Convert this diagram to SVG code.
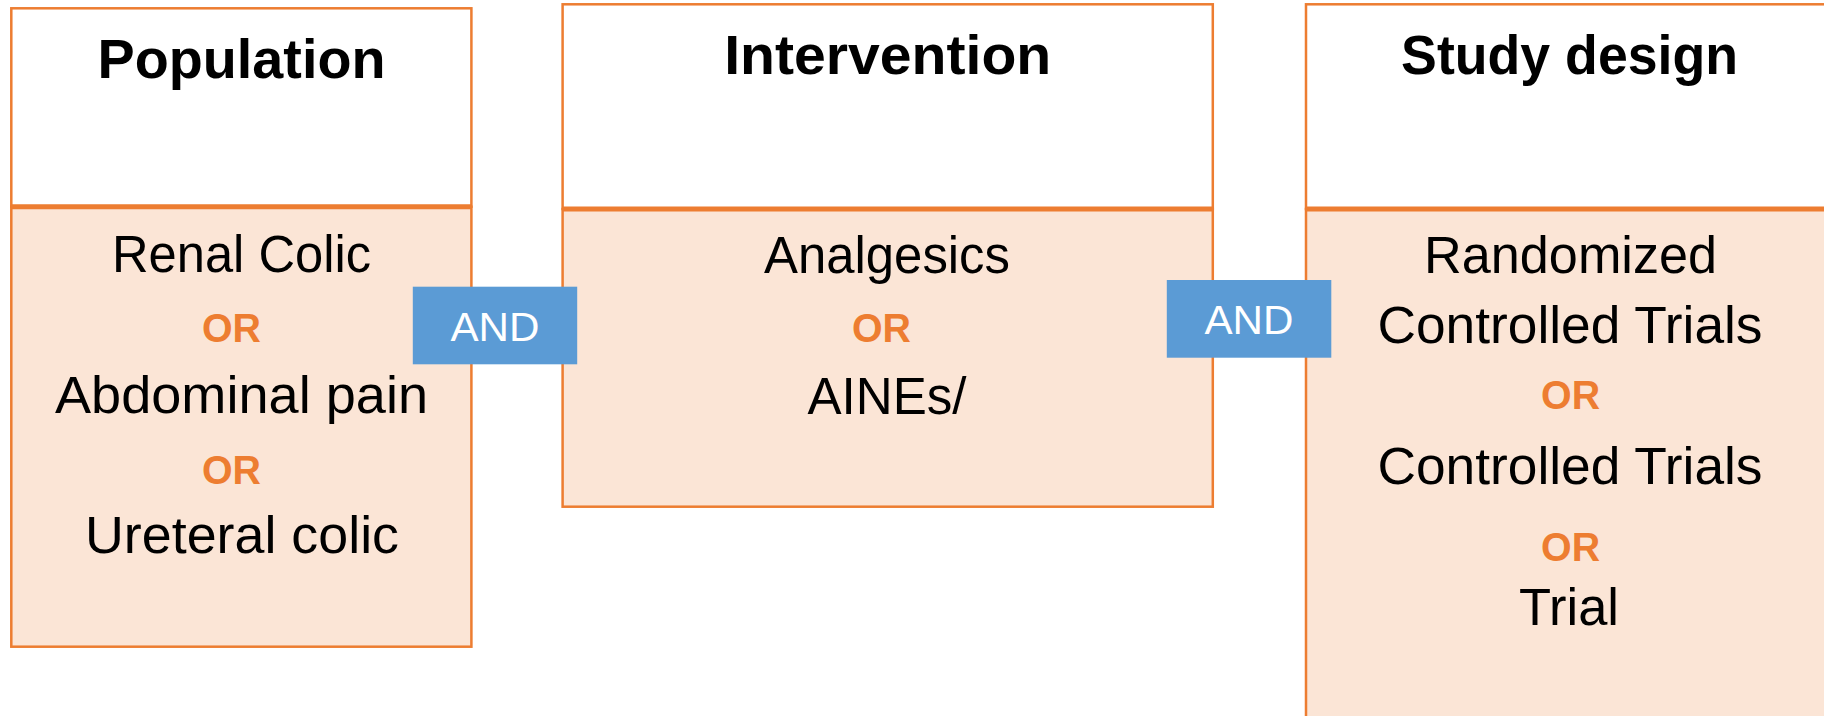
<svg xmlns="http://www.w3.org/2000/svg" width="1824" height="716" viewBox="0 0 1824 716">
  <style>
    .head { fill: #FFFFFF; stroke: #ED7D31; stroke-width: 2.5; }
    .body { fill: #FBE5D6; stroke: #ED7D31; stroke-width: 2.5; }
    .div { stroke: #ED7D31; stroke-width: 5; }
    .title { font-family: "Liberation Sans", Arial, sans-serif; font-weight: bold; font-size: 56px; fill: #000000; text-anchor: middle; }
    .item { font-family: "Liberation Sans", Arial, sans-serif; font-size: 51px; fill: #000000; text-anchor: middle; }
    .or { font-family: "Liberation Sans", Arial, sans-serif; font-weight: bold; font-size: 40px; fill: #ED7D31; text-anchor: middle; }
    .andbox { fill: #5B9BD5; }
    .andtxt { font-family: "Liberation Sans", Arial, sans-serif; font-size: 40px; fill: #FFFFFF; text-anchor: middle; }
  </style>
  <rect x="0" y="0" width="1824" height="716" fill="#FFFFFF"/>

  <g id="population">
    <rect class="head" x="11.3" y="8.3" width="460.1" height="198.4"/>
    <rect class="body" x="11.3" y="206.7" width="460.1" height="440"/>
    <line class="div" x1="11.3" y1="206.7" x2="471.4" y2="206.7"/>
    <text class="title" x="241.5" y="77.7" textLength="288" lengthAdjust="spacingAndGlyphs">Population</text>
    <text class="item" x="241.5" y="271.7" textLength="259" lengthAdjust="spacingAndGlyphs">Renal Colic</text>
    <text class="or" x="231.4" y="342.3" textLength="59" lengthAdjust="spacingAndGlyphs">OR</text>
    <text class="item" x="241.5" y="412.7" textLength="373" lengthAdjust="spacingAndGlyphs">Abdominal pain</text>
    <text class="or" x="231.4" y="484.3" textLength="59" lengthAdjust="spacingAndGlyphs">OR</text>
    <text class="item" x="242" y="552.7" textLength="314" lengthAdjust="spacingAndGlyphs">Ureteral colic</text>
  </g>

  <g id="intervention">
    <rect class="head" x="562.6" y="4.3" width="650.2" height="204.7"/>
    <rect class="body" x="562.6" y="209" width="650.2" height="297.7"/>
    <line class="div" x1="562.6" y1="209" x2="1212.8" y2="209"/>
    <text class="title" x="887.7" y="74" textLength="327" lengthAdjust="spacingAndGlyphs">Intervention</text>
    <text class="item" x="887" y="273.3" textLength="246" lengthAdjust="spacingAndGlyphs">Analgesics</text>
    <text class="or" x="881.5" y="342.3" textLength="59" lengthAdjust="spacingAndGlyphs">OR</text>
    <text class="item" x="887" y="414.3" textLength="159" lengthAdjust="spacingAndGlyphs">AINEs/</text>
  </g>

  <g id="study-design">
    <rect class="head" x="1306" y="4.3" width="540" height="204.7"/>
    <rect class="body" x="1306" y="209" width="540" height="540"/>
    <line class="div" x1="1306" y1="209" x2="1846" y2="209"/>
    <text class="title" x="1569.6" y="74" textLength="337" lengthAdjust="spacingAndGlyphs">Study design</text>
    <text class="item" x="1570.6" y="273.3" textLength="293" lengthAdjust="spacingAndGlyphs">Randomized</text>
    <text class="item" x="1570" y="343.3" textLength="385" lengthAdjust="spacingAndGlyphs">Controlled Trials</text>
    <text class="or" x="1570.6" y="409.3" textLength="59" lengthAdjust="spacingAndGlyphs">OR</text>
    <text class="item" x="1570" y="484.3" textLength="385" lengthAdjust="spacingAndGlyphs">Controlled Trials</text>
    <text class="or" x="1570.6" y="561" textLength="59" lengthAdjust="spacingAndGlyphs">OR</text>
    <text class="item" x="1569" y="625" textLength="100" lengthAdjust="spacingAndGlyphs">Trial</text>
  </g>

  <g id="connectors">
    <g id="and-1">
      <rect class="andbox" x="412.8" y="286.7" width="164.4" height="77.6"/>
      <text class="andtxt" x="495" y="340.7" textLength="89" lengthAdjust="spacingAndGlyphs">AND</text>
    </g>
    <g id="and-2">
      <rect class="andbox" x="1166.8" y="280" width="164.5" height="77.7"/>
      <text class="andtxt" x="1249" y="334.3" textLength="89" lengthAdjust="spacingAndGlyphs">AND</text>
    </g>
  </g>
</svg>
